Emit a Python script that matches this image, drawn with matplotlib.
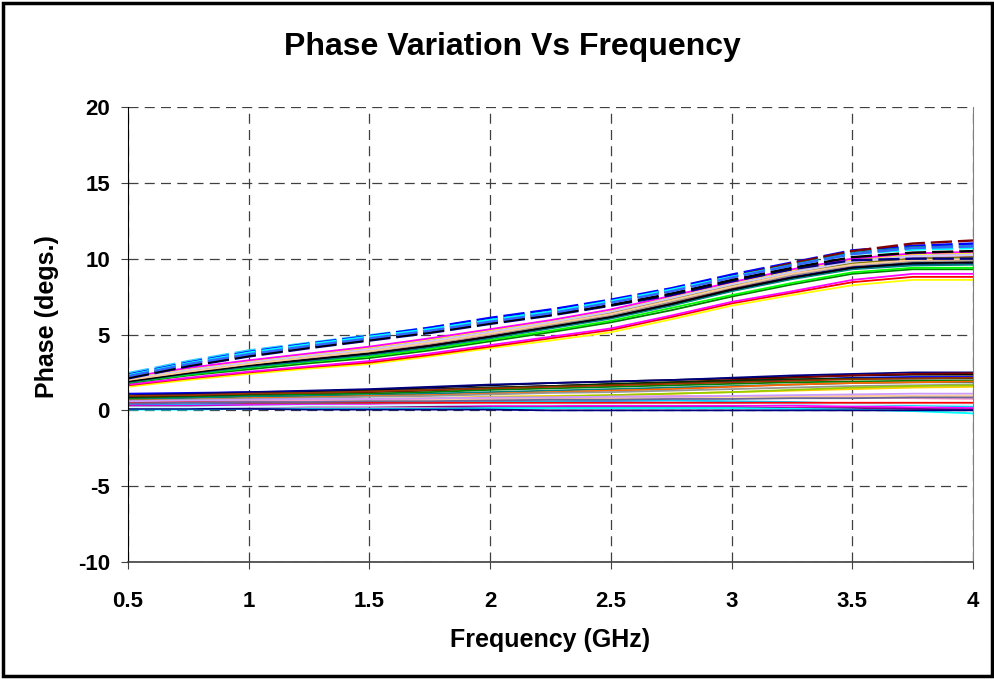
import matplotlib.pyplot as plt
from matplotlib.patches import Rectangle

plt.rcParams['font.family'] = ['Liberation Sans', 'DejaVu Sans']
plt.rcParams['axes.unicode_minus'] = False

# frequency points (GHz)
freq = [0.5, 0.75, 1.0, 1.25, 1.5, 1.75, 2.0, 2.25, 2.5, 2.75, 3.0, 3.25, 3.5, 3.75, 4.0]

# upper group, dashed traces
dashed_colors = ['#33CCFF', '#0000FF', '#800000', '#008080', '#00FFFF', '#000080', '#000000', '#3366FF']
dashed_phase = [
    [2.45, 3.25, 3.95, 4.45, 4.95, 5.45, 6.05, 6.6, 7.25, 8.0, 8.85, 9.65, 10.4, 10.75, 10.9],
    [2.35, 3.15, 3.85, 4.4, 4.9, 5.45, 6.1, 6.65, 7.3, 8.05, 8.95, 9.75, 10.55, 10.85, 11.0],
    [2.2, 3.0, 3.7, 4.25, 4.75, 5.3, 5.9, 6.45, 7.15, 7.9, 8.8, 9.7, 10.5, 11.0, 11.2],
    [2.3, 3.1, 3.75, 4.3, 4.8, 5.3, 5.95, 6.5, 7.15, 7.9, 8.8, 9.6, 10.35, 10.75, 10.8],
    [2.3, 3.1, 3.8, 4.35, 4.85, 5.35, 5.95, 6.5, 7.2, 7.95, 8.8, 9.55, 10.3, 10.6, 10.7],
    [2.1, 2.9, 3.55, 4.1, 4.6, 5.1, 5.7, 6.25, 6.9, 7.6, 8.5, 9.3, 9.9, 10.0, 10.0],
    [2.15, 2.95, 3.6, 4.15, 4.65, 5.15, 5.75, 6.3, 6.95, 7.7, 8.6, 9.4, 10.1, 10.4, 10.5],
    [2.25, 3.05, 3.7, 4.25, 4.75, 5.25, 5.85, 6.4, 7.1, 7.85, 8.75, 9.55, 10.3, 10.7, 10.8],
]

# upper group, solid traces
upper_colors = ['#FFFF00', '#FF0000', '#FF00FF', '#008000', '#00FF00', '#000080', '#0000FF',
                '#800080', '#99CCFF', '#800000', '#FF99CC', '#008080', '#969696', '#CC99FF',
                '#FFFF00', '#808000', '#FF00FF', '#CCCCFF', '#000000', '#FFCC99']
upper_phase = [
    [1.55, 2.0, 2.4, 2.75, 3.05, 3.55, 4.1, 4.6, 5.15, 6.0, 6.9, 7.6, 8.25, 8.6, 8.6],
    [1.65, 2.1, 2.5, 2.85, 3.15, 3.65, 4.2, 4.75, 5.3, 6.15, 7.05, 7.75, 8.45, 8.8, 8.8],
    [1.7, 2.15, 2.55, 2.9, 3.25, 3.75, 4.3, 4.85, 5.4, 6.25, 7.15, 7.85, 8.6, 9.0, 9.0],
    [1.8, 2.3, 2.7, 3.1, 3.45, 3.95, 4.55, 5.15, 5.8, 6.6, 7.5, 8.3, 9.0, 9.3, 9.3],
    [1.85, 2.35, 2.8, 3.2, 3.55, 4.05, 4.65, 5.25, 5.9, 6.75, 7.6, 8.4, 9.1, 9.4, 9.4],
    [1.9, 2.45, 2.9, 3.3, 3.7, 4.2, 4.8, 5.45, 6.1, 6.95, 7.9, 8.7, 9.35, 9.6, 9.65],
    [1.95, 2.5, 3.0, 3.4, 3.8, 4.3, 4.9, 5.55, 6.2, 7.05, 8.0, 8.8, 9.45, 9.75, 9.8],
    [2.05, 2.65, 3.15, 3.6, 4.0, 4.55, 5.15, 5.8, 6.5, 7.4, 8.3, 9.1, 9.75, 10.05, 10.15],
    [2.0, 2.6, 3.1, 3.55, 3.95, 4.45, 5.05, 5.7, 6.35, 7.25, 8.2, 9.0, 9.65, 9.95, 10.05],
    [1.9, 2.5, 3.0, 3.45, 3.85, 4.35, 4.95, 5.6, 6.25, 7.1, 8.05, 8.9, 9.55, 9.85, 9.9],
    [2.0, 2.55, 3.05, 3.5, 3.9, 4.4, 5.0, 5.65, 6.3, 7.2, 8.15, 9.05, 9.75, 10.1, 10.2],
    [1.85, 2.4, 2.85, 3.25, 3.65, 4.15, 4.75, 5.4, 6.05, 6.9, 7.85, 8.65, 9.3, 9.55, 9.6],
    [1.95, 2.55, 3.05, 3.45, 3.85, 4.4, 5.0, 5.6, 6.25, 7.15, 8.1, 8.9, 9.55, 9.8, 9.85],
    [2.1, 2.7, 3.2, 3.65, 4.05, 4.6, 5.2, 5.85, 6.55, 7.45, 8.35, 9.15, 9.85, 10.2, 10.3],
    [2.15, 2.75, 3.25, 3.7, 4.15, 4.7, 5.3, 5.9, 6.6, 7.5, 8.4, 9.25, 9.95, 10.3, 10.4],
    [2.0, 2.6, 3.1, 3.55, 3.95, 4.5, 5.1, 5.7, 6.4, 7.3, 8.2, 9.05, 9.7, 10.0, 10.1],
    [2.2, 2.8, 3.3, 3.75, 4.2, 4.75, 5.35, 5.95, 6.65, 7.55, 8.45, 9.3, 10.0, 10.35, 10.45],
    [2.05, 2.65, 3.15, 3.6, 4.0, 4.55, 5.15, 5.8, 6.5, 7.4, 8.3, 9.1, 9.8, 10.15, 10.25],
    [1.9, 2.45, 2.95, 3.35, 3.75, 4.25, 4.85, 5.5, 6.15, 7.0, 7.95, 8.75, 9.4, 9.7, 9.75],
    [2.0, 2.55, 3.05, 3.5, 3.9, 4.45, 5.05, 5.7, 6.35, 7.25, 8.15, 9.0, 9.6, 9.9, 9.95],
]

# lower group, solid traces
lower_colors = ['#0000FF', '#000000', '#000080', '#800000', '#003300', '#008000', '#008080',
                '#993300', '#FF6600', '#FFCC00', '#969696', '#99CC00', '#FFFF99', '#FF99CC',
                '#FFCC99', '#3366FF', '#00CCFF', '#FF00FF', '#800080', '#00FFFF', '#000080',
                '#CCFFFF', '#FF0000', '#CC99FF', '#666699']
lower_phase = [
    [1.1, 1.15, 1.2, 1.25, 1.3, 1.4, 1.5, 1.6, 1.7, 1.8, 1.9, 2.0, 2.15, 2.2, 2.2],
    [0.9, 1.05, 1.15, 1.25, 1.35, 1.5, 1.65, 1.8, 1.9, 2.0, 2.1, 2.2, 2.3, 2.35, 2.35],
    [1.0, 1.1, 1.2, 1.3, 1.4, 1.55, 1.7, 1.8, 1.9, 2.0, 2.15, 2.3, 2.4, 2.5, 2.5],
    [0.8, 0.9, 1.0, 1.1, 1.2, 1.3, 1.45, 1.6, 1.7, 1.85, 2.0, 2.15, 2.3, 2.4, 2.45],
    [0.85, 0.95, 1.05, 1.15, 1.25, 1.35, 1.5, 1.6, 1.75, 1.85, 1.95, 2.05, 2.1, 2.1, 2.1],
    [0.75, 0.85, 0.95, 1.05, 1.1, 1.2, 1.35, 1.45, 1.55, 1.65, 1.75, 1.85, 1.9, 1.95, 1.95],
    [0.7, 0.8, 0.9, 0.95, 1.0, 1.1, 1.2, 1.3, 1.4, 1.5, 1.6, 1.7, 1.8, 1.85, 1.85],
    [0.95, 1.0, 1.1, 1.15, 1.25, 1.35, 1.45, 1.55, 1.65, 1.75, 1.85, 1.95, 2.05, 2.1, 2.15],
    [0.65, 0.7, 0.8, 0.85, 0.95, 1.0, 1.1, 1.2, 1.3, 1.4, 1.55, 1.7, 1.8, 1.85, 1.9],
    [0.55, 0.6, 0.65, 0.7, 0.75, 0.8, 0.9, 0.95, 1.0, 1.1, 1.2, 1.3, 1.4, 1.5, 1.55],
    [0.6, 0.7, 0.75, 0.8, 0.9, 0.95, 1.05, 1.15, 1.2, 1.3, 1.4, 1.5, 1.6, 1.65, 1.7],
    [0.5, 0.55, 0.6, 0.65, 0.7, 0.75, 0.85, 0.9, 1.0, 1.1, 1.2, 1.35, 1.5, 1.6, 1.65],
    [0.45, 0.5, 0.55, 0.6, 0.65, 0.7, 0.75, 0.8, 0.85, 0.85, 0.9, 0.9, 0.95, 0.95, 1.0],
    [0.5, 0.55, 0.6, 0.65, 0.7, 0.75, 0.8, 0.85, 0.9, 0.95, 0.95, 0.9, 0.85, 0.8, 0.75],
    [0.4, 0.45, 0.5, 0.55, 0.6, 0.65, 0.7, 0.75, 0.8, 0.85, 0.9, 0.9, 0.95, 0.95, 0.95],
    [0.35, 0.4, 0.45, 0.45, 0.5, 0.5, 0.55, 0.55, 0.55, 0.5, 0.5, 0.45, 0.4, 0.35, 0.3],
    [0.3, 0.35, 0.4, 0.45, 0.5, 0.55, 0.6, 0.6, 0.65, 0.65, 0.6, 0.55, 0.45, 0.35, 0.25],
    [0.3, 0.3, 0.35, 0.35, 0.35, 0.3, 0.3, 0.3, 0.3, 0.3, 0.3, 0.3, 0.25, 0.2, 0.15],
    [0.25, 0.25, 0.25, 0.25, 0.25, 0.25, 0.2, 0.2, 0.2, 0.2, 0.2, 0.15, 0.15, 0.1, 0.05],
    [0.05, 0.05, 0.1, 0.1, 0.1, 0.1, 0.15, 0.15, 0.15, 0.15, 0.15, 0.1, 0.05, -0.05, -0.2],
    [0.1, 0.1, 0.1, 0.05, 0.05, 0.05, 0.05, 0.0, 0.0, 0.0, 0.0, 0.0, 0.0, 0.0, 0.0],
    [0.2, 0.2, 0.25, 0.3, 0.3, 0.35, 0.4, 0.4, 0.45, 0.45, 0.5, 0.45, 0.4, 0.4, 0.35],
    [0.55, 0.55, 0.5, 0.5, 0.5, 0.5, 0.5, 0.5, 0.5, 0.5, 0.5, 0.5, 0.5, 0.5, 0.5],
    [0.6, 0.65, 0.7, 0.75, 0.75, 0.8, 0.85, 0.85, 0.9, 0.9, 0.95, 1.0, 1.05, 1.1, 1.1],
    [0.45, 0.5, 0.55, 0.55, 0.6, 0.6, 0.65, 0.7, 0.7, 0.75, 0.75, 0.8, 0.8, 0.85, 0.85],
]

x_ticks = [0.5, 1, 1.5, 2, 2.5, 3, 3.5, 4]
x_ticklabels = ['0.5', '1', '1.5', '2', '2.5', '3', '3.5', '4']
y_ticks = [-10, -5, 0, 5, 10, 15, 20]
y_ticklabels = ['-10', '-5', '0', '5', '10', '15', '20']

fig = plt.figure(figsize=(9.95, 6.79), dpi=100)
ax = fig.add_axes([0.1286, 0.1723, 0.8494, 0.6701])

for c, v in zip(lower_colors, lower_phase):
    ax.plot(freq, v, color=c, lw=1.3)
for c, v in zip(upper_colors, upper_phase):
    ax.plot(freq, v, color=c, lw=1.3)
for c, v in zip(dashed_colors, dashed_phase):
    ax.plot(freq, v, color=c, lw=1.7, dashes=(9, 2.5))

ax.set_xlim(0.5, 4)
ax.set_ylim(-10, 20)
ax.set_xticks(x_ticks)
ax.set_xticklabels(x_ticklabels, fontsize=16, fontweight='bold')
ax.set_yticks(y_ticks)
ax.set_yticklabels(y_ticklabels, fontsize=16, fontweight='bold')
ax.grid(True, color='#404040', linestyle=(0, (8, 5)), linewidth=0.9)
ax.set_axisbelow(True)

ax.spines['top'].set_visible(False)
ax.spines['right'].set_color('#808080')
ax.spines['left'].set_color('black')
ax.spines['bottom'].set_color('#404040')
ax.spines['bottom'].set_linewidth(1.2)
ax.tick_params(direction='out', length=5, width=0.8, color='#404040')
ax.tick_params(axis='x', pad=16)
ax.tick_params(axis='y', pad=8)

ax.set_xlabel('Frequency (GHz)', fontsize=18, fontweight='bold')
ax.set_ylabel('Phase (degs.)', fontsize=18, fontweight='bold')
ax.xaxis.set_label_coords(0.5, -0.171)
ax.yaxis.set_label_coords(-0.096, 0.54)
ax.xaxis.label.set_va('center')
ax.yaxis.label.set_va('center')
fig.text(0.515, 0.931, 'Phase Variation Vs Frequency', ha='center', va='center',
         fontsize=23, fontweight='bold')

# outer chart border
fig.patches.append(Rectangle((0.003, 0.004), 0.994, 0.992, transform=fig.transFigure,
                             fill=False, edgecolor='black', linewidth=2.5))

fig.savefig('out.png', dpi=100)
